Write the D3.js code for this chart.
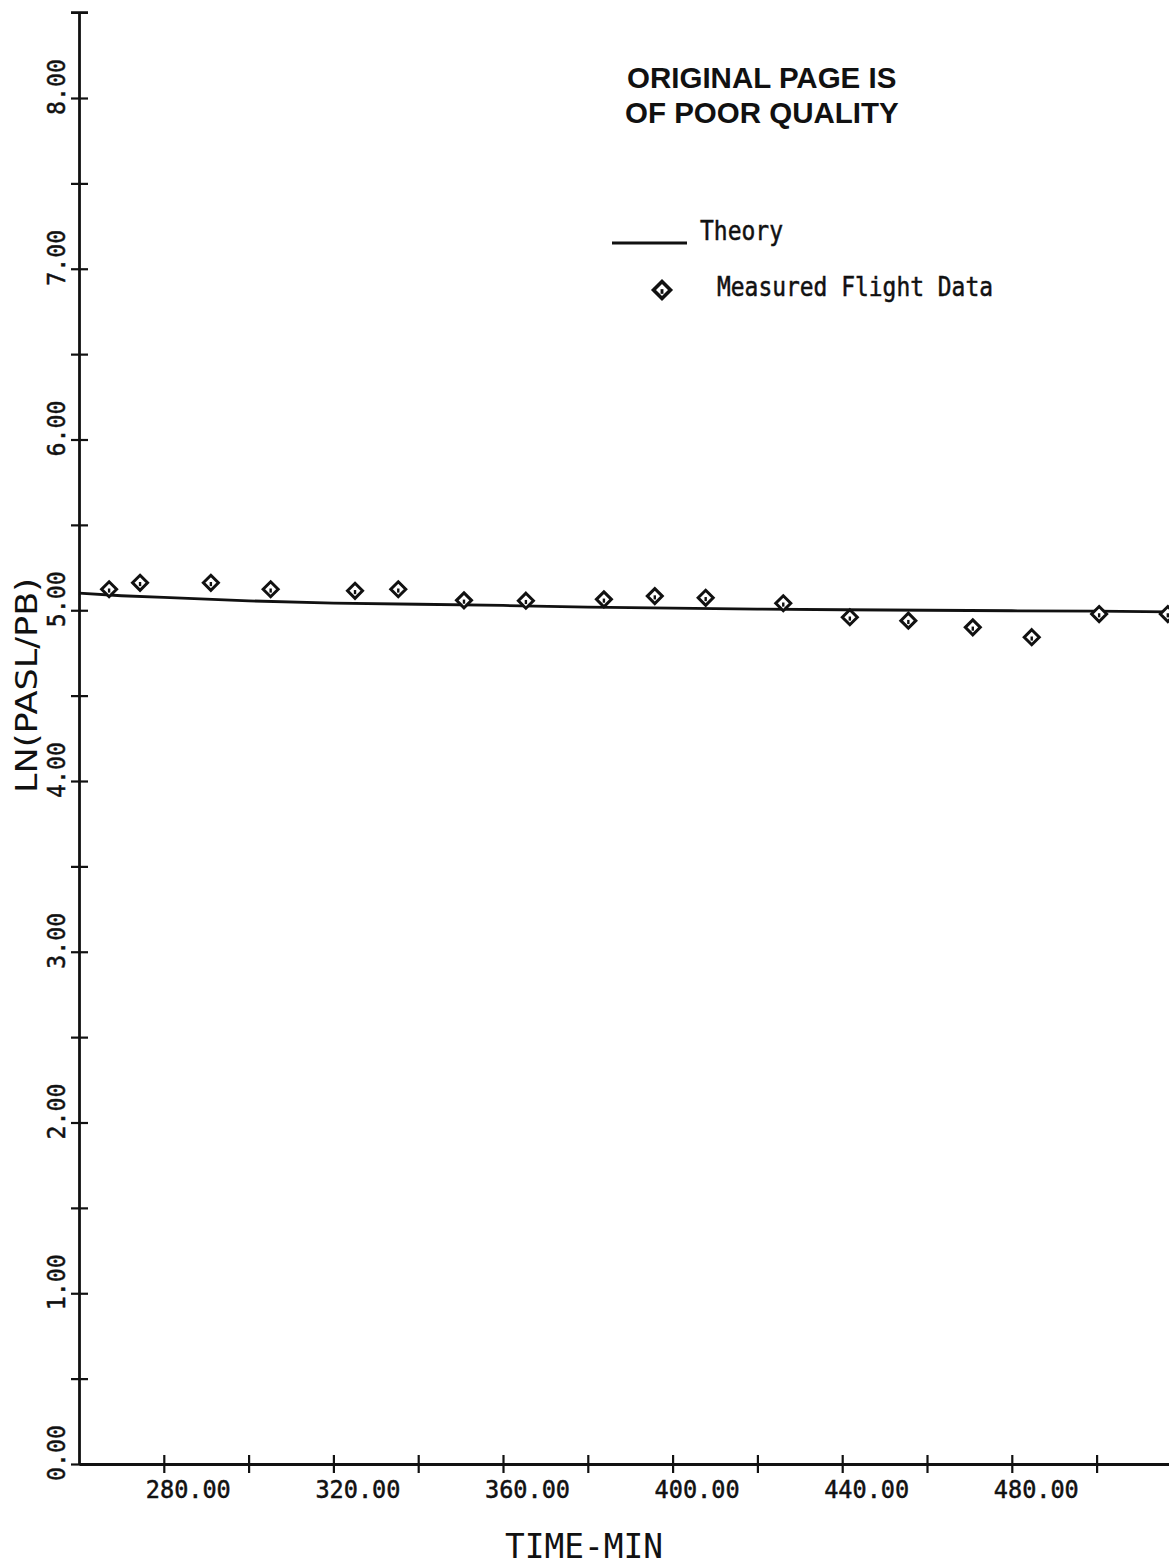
<!DOCTYPE html>
<html>
<head>
<meta charset="utf-8">
<script src="https://cdn.jsdelivr.net/npm/d3@7"></script>
<style>
  html, body { margin: 0; padding: 0; background: #fff; }
  svg { display: block; }
</style>
</head>
<body>
<div id="plot"></div>
<script>
// theory curve (time in min, ln(PASL/PB))
var theoryTime  = [260, 270, 280, 300, 320, 340, 360, 380, 400, 420, 440, 460, 480, 500, 520];
var theoryValue = [5.10, 5.085, 5.075, 5.055, 5.042, 5.035, 5.028, 5.018, 5.012, 5.007, 5.003, 5.000, 4.997, 4.995, 4.99];

// measured flight data
var flightTime  = [267.1, 274.4, 291.1, 305.2, 325.1, 335.3, 350.8, 365.4, 383.8, 395.8, 407.8, 426.1, 441.8, 455.6, 470.8, 484.7, 500.6, 516.8];
var flightValue = [5.123, 5.161, 5.161, 5.123, 5.114, 5.123, 5.058, 5.056, 5.064, 5.083, 5.073, 5.041, 4.959, 4.939, 4.900, 4.842, 4.978, 4.978];

// axis ticks
var xTicks  = [280, 300, 320, 340, 360, 380, 400, 420, 440, 460, 480, 500];
var xLabels = [280, 320, 360, 400, 440, 480];
var yTicks  = [0, 0.5, 1, 1.5, 2, 2.5, 3, 3.5, 4, 4.5, 5, 5.5, 6, 6.5, 7, 7.5, 8];
var yLabels = [0, 1, 2, 3, 4, 5, 6, 7, 8];

var width = 1169, height = 1567;
var plotFont = "'DejaVu Sans Mono', monospace";

var svg = d3.select("#plot")
    .append("svg")
      .attr("width", width)
      .attr("height", height);

var x = d3.scaleLinear()
    .domain([260, 520])
    .range([79, 79 + 260 * 4.24]);

var y = d3.scaleLinear()
    .domain([0, 8.5])
    .range([1464, 1464 - 8.5 * 170.75]);

// x axis, ticks drawn as crosses
var xAxis = svg.append("g")
    .attr("transform", "translate(0," + y(0) + ")")
    .call(d3.axisBottom(x).tickValues(xTicks).tickSize(9).tickSizeOuter(0).tickFormat(""));
xAxis.select(".domain").attr("stroke-width", 2.8).attr("stroke", "#111");
xAxis.selectAll(".tick line").attr("y1", -9).attr("stroke-width", 2.2).attr("stroke", "#111");

// y axis
var yAxis = svg.append("g")
    .attr("transform", "translate(" + x(260) + ",0)")
    .call(d3.axisLeft(y).tickValues(yTicks).tickSize(8).tickSizeOuter(0).tickFormat(""));
yAxis.select(".domain").attr("stroke-width", 2.8).attr("stroke", "#111");
yAxis.selectAll(".tick line").attr("x1", 9).attr("stroke-width", 2.2).attr("stroke", "#111");
// cap at the top of the axis
yAxis.append("line")
    .attr("x1", -8).attr("x2", 9)
    .attr("y1", y(8.5)).attr("y2", y(8.5))
    .attr("stroke", "#111").attr("stroke-width", 2.8);

// tick labels
svg.append("g")
  .selectAll("text")
  .data(xLabels)
  .enter()
  .append("text")
    .attr("x", function(d) { return x(d) - 18; })
    .attr("y", 1498)
    .attr("textLength", 85)
    .attr("lengthAdjust", "spacingAndGlyphs")
    .style("font-family", plotFont)
    .style("font-size", "24px")
    .attr("fill", "#111")
    .attr("stroke", "#111")
    .attr("stroke-width", 0.5)
    .text(function(d) { return d.toFixed(2); });

svg.append("g")
  .selectAll("text")
  .data(yLabels)
  .enter()
  .append("text")
    .attr("transform", function(d) { return "translate(65," + (y(d) + 17) + ") rotate(-90)"; })
    .attr("textLength", 56)
    .attr("lengthAdjust", "spacingAndGlyphs")
    .style("font-family", plotFont)
    .style("font-size", "25px")
    .attr("fill", "#111")
    .attr("stroke", "#111")
    .attr("stroke-width", 0.5)
    .text(function(d) { return d.toFixed(2); });

// axis titles
svg.append("text")
    .attr("x", 505)
    .attr("y", 1558)
    .attr("textLength", 158)
    .attr("lengthAdjust", "spacingAndGlyphs")
    .style("font-family", plotFont)
    .style("font-size", "34px")
    .attr("fill", "#111")
    .text("TIME-MIN");

svg.append("text")
    .attr("transform", "translate(37,793) rotate(-90)")
    .attr("textLength", 215)
    .attr("lengthAdjust", "spacingAndGlyphs")
    .style("font-family", "'DejaVu Sans', sans-serif")
    .style("font-size", "30px")
    .attr("fill", "#111")
    .text("LN(PASL/PB)");

// theory line
svg.append("path")
    .datum(d3.range(theoryTime.length))
    .attr("fill", "none")
    .attr("stroke", "#111")
    .attr("stroke-width", 2.8)
    .attr("d", d3.line()
        .x(function(i) { return x(theoryTime[i]); })
        .y(function(i) { return y(theoryValue[i]); })
    );

// diamond marker
function diamond(g, cx, cy, r, sw) {
  g.append("path")
      .attr("d", "M" + cx + "," + (cy - r) + "L" + (cx + r) + "," + cy + "L" + cx + "," + (cy + r) + "L" + (cx - r) + "," + cy + "Z")
      .attr("fill", "#fff")
      .attr("stroke", "#111")
      .attr("stroke-width", sw);
  g.append("line")
      .attr("x1", cx).attr("x2", cx)
      .attr("y1", cy - r * 0.1).attr("y2", cy + r * 0.45)
      .attr("stroke", "#111")
      .attr("stroke-width", sw * 0.8);
}

var points = svg.append("g");
flightTime.forEach(function(t, i) {
  diamond(points, x(t), y(flightValue[i]), 7.5, 3);
});

// stamp and legend
svg.append("text")
    .attr("x", 627).attr("y", 88)
    .style("font-family", "'Liberation Sans', Arial, sans-serif")
    .style("font-weight", "bold")
    .style("font-size", "29.5px")
    .attr("fill", "#111")
    .text("ORIGINAL PAGE IS");
svg.append("text")
    .attr("x", 625).attr("y", 123)
    .style("font-family", "'Liberation Sans', Arial, sans-serif")
    .style("font-weight", "bold")
    .style("font-size", "29.5px")
    .attr("fill", "#111")
    .text("OF POOR QUALITY");

svg.append("line")
    .attr("x1", 612).attr("x2", 687)
    .attr("y1", 243).attr("y2", 243)
    .attr("stroke", "#111")
    .attr("stroke-width", 2.8);
svg.append("text")
    .attr("x", 700).attr("y", 240)
    .attr("textLength", 83)
    .attr("lengthAdjust", "spacingAndGlyphs")
    .style("font-family", plotFont)
    .style("font-size", "26px")
    .attr("fill", "#111")
    .attr("stroke", "#111")
    .attr("stroke-width", 0.5)
    .text("Theory");

diamond(svg.append("g"), 662, 290, 8.5, 3.6);
svg.append("text")
    .attr("x", 717).attr("y", 296)
    .attr("textLength", 276)
    .attr("lengthAdjust", "spacingAndGlyphs")
    .style("font-family", plotFont)
    .style("font-size", "26px")
    .attr("fill", "#111")
    .attr("stroke", "#111")
    .attr("stroke-width", 0.5)
    .text("Measured Flight Data");
</script>
</body>
</html>
